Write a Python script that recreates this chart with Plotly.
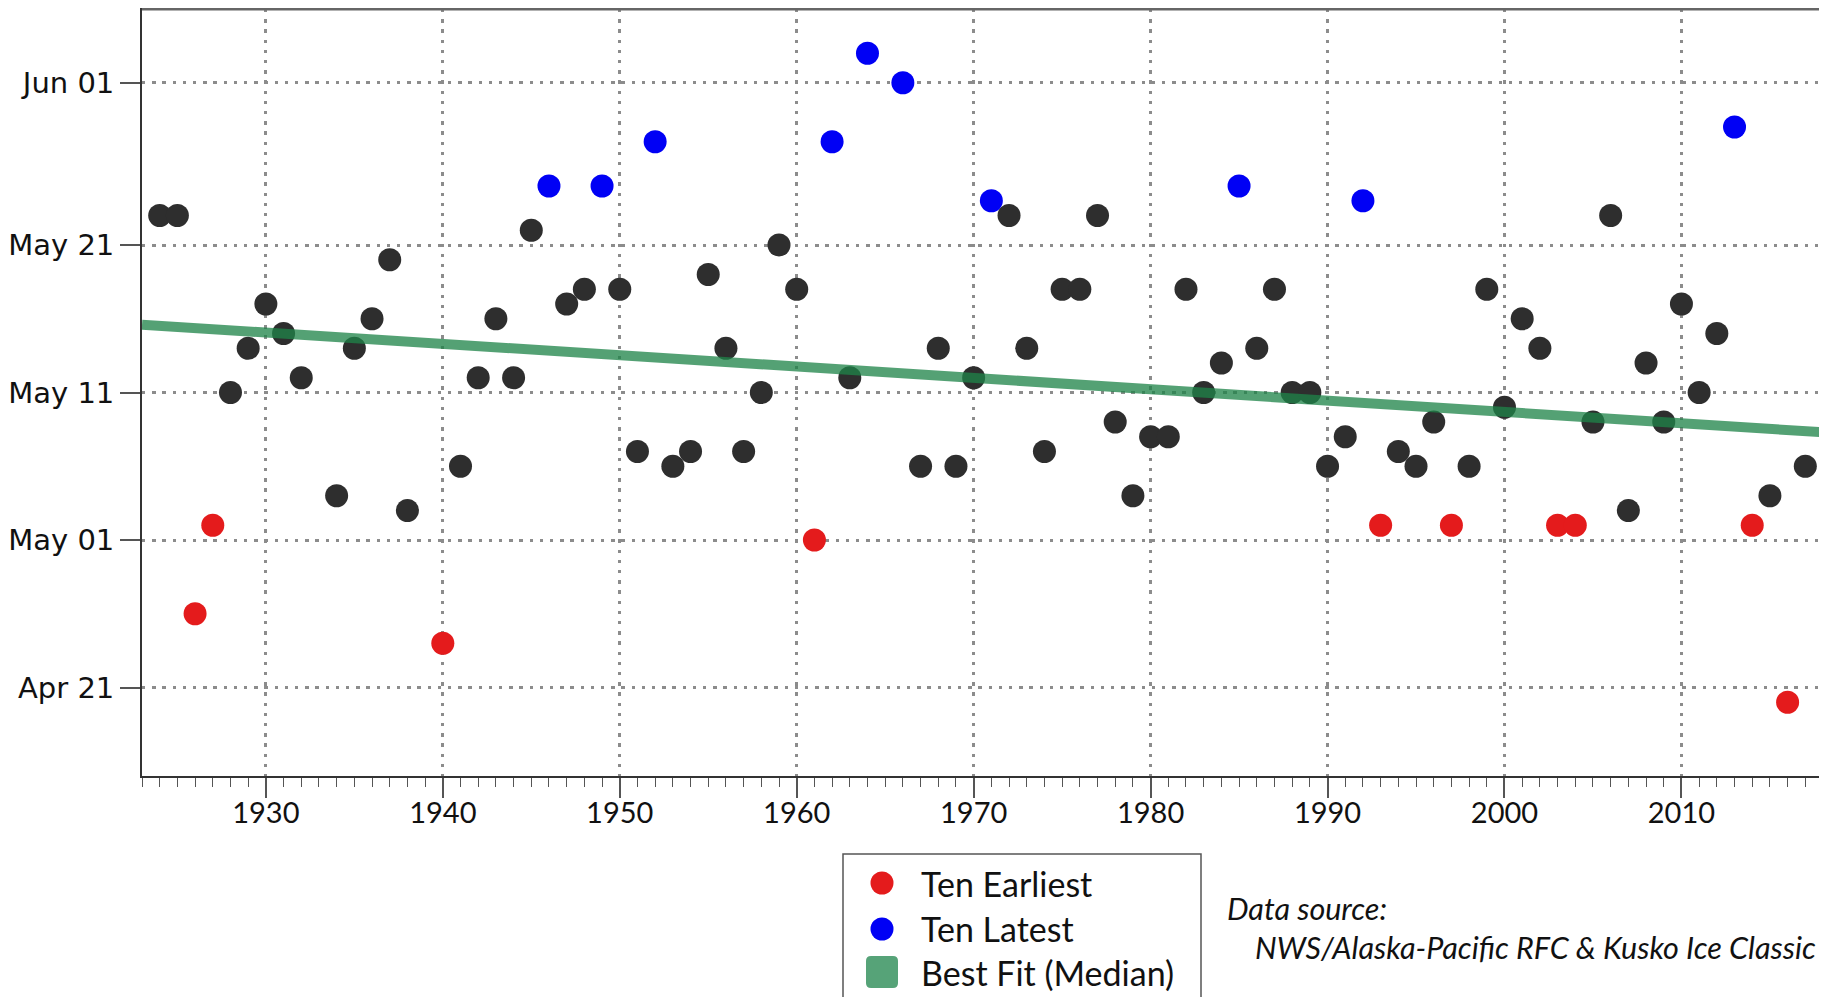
import plotly.graph_objects as go
import pandas as pd

BASE_YEAR = "2001"

# ---- data (breakup dates, month-day) ----
normal_years = [1924, 1925, 1928, 1929, 1930, 1931, 1932, 1934, 1935, 1936,
                1937, 1938, 1941, 1942, 1943, 1944, 1945, 1947, 1948, 1950,
                1951, 1953, 1954, 1955, 1956, 1957, 1958, 1959, 1960, 1963,
                1967, 1968, 1969, 1970, 1972, 1973, 1974, 1975, 1976, 1977,
                1978, 1979, 1980, 1981, 1982, 1983, 1984, 1986, 1987, 1988,
                1989, 1990, 1991, 1994, 1995, 1996, 1998, 1999, 2000, 2001,
                2002, 2005, 2006, 2007, 2008, 2009, 2010, 2011, 2012, 2015,
                2017]
normal_dates = ["05-23", "05-23", "05-11", "05-14", "05-17", "05-15", "05-12", "05-04", "05-14", "05-16",
                "05-20", "05-03", "05-06", "05-12", "05-16", "05-12", "05-22", "05-17", "05-18", "05-18",
                "05-07", "05-06", "05-07", "05-19", "05-14", "05-07", "05-11", "05-21", "05-18", "05-12",
                "05-06", "05-14", "05-06", "05-12", "05-23", "05-14", "05-07", "05-18", "05-18", "05-23",
                "05-09", "05-04", "05-08", "05-08", "05-18", "05-11", "05-13", "05-14", "05-18", "05-11",
                "05-11", "05-06", "05-08", "05-07", "05-06", "05-09", "05-06", "05-18", "05-10", "05-16",
                "05-14", "05-09", "05-23", "05-03", "05-13", "05-09", "05-17", "05-11", "05-15", "05-04",
                "05-06"]

earliest_years = [1926, 1927, 1940, 1961, 1993, 1997, 2003, 2004, 2014, 2016]
earliest_dates = ["04-26", "05-02", "04-24", "05-01", "05-02", "05-02", "05-02", "05-02", "05-02", "04-20"]

latest_years = [1946, 1949, 1952, 1962, 1964, 1966, 1971, 1985, 1992, 2013]
latest_dates = ["05-25", "05-25", "05-28", "05-28", "06-03", "06-01", "05-24", "05-25", "05-24", "05-29"]

fit_years = [1923, 2018]
fit_dates = ["05-15 14:24", "05-08 07:12"]

ytick_dates = ["04-21", "05-01", "05-11", "05-21", "06-01"]
ytick_labels = ["Apr 21", "May 01", "May 11", "May 21", "Jun 01"]
xtick_years = [1930, 1940, 1950, 1960, 1970, 1980, 1990, 2000, 2010]

legend_labels = ["Ten Earliest", "Ten Latest", "Best Fit (Median)"]
source_lines = ["Data source:", "NWS/Alaska-Pacific RFC & Kusko Ice Classic"]


def d(s):
    return pd.to_datetime([f"{BASE_YEAR}-{v}" for v in s])


BLACK = "#2e2e2e"
RED = "#e41b1c"
BLUE = "#0000f5"
GREEN_LINE = "rgba(30,132,72,0.76)"
GREEN_SQ = "#56a378"
GRID = "#8c8c8c"

# page layout (the page body adds an 8px offset)
OFF = 8
W, H = 1827, 997
ML, MR, MT, MB = 134, 12, 1, 229
PW = W - ML - MR
PH = H - MT - MB


def px(x):
    return (x - OFF - ML) / PW


def py(y):
    return (OFF + H - MB - y) / PH


fig = go.Figure()
fig.add_trace(go.Scatter(x=normal_years, y=d(normal_dates), mode="markers",
                         marker=dict(color=BLACK, size=23, line=dict(width=0)),
                         showlegend=False, hoverinfo="skip"))
fig.add_trace(go.Scatter(x=earliest_years, y=d(earliest_dates), mode="markers",
                         marker=dict(color=RED, size=23, line=dict(width=0)),
                         name=legend_labels[0], showlegend=False))
fig.add_trace(go.Scatter(x=latest_years, y=d(latest_dates), mode="markers",
                         marker=dict(color=BLUE, size=23, line=dict(width=0)),
                         name=legend_labels[1], showlegend=False))
fig.add_trace(go.Scatter(x=fit_years, y=d(fit_dates), mode="lines",
                         line=dict(color=GREEN_LINE, width=10),
                         name=legend_labels[2], showlegend=False))

fig.update_xaxes(
    range=[1923, 2018], tickvals=xtick_years, ticktext=[str(v) for v in xtick_years],
    ticks="outside", ticklen=20, tickwidth=1.5, tickcolor="#555",
    ticklabelstandoff=-10,
    minor=dict(dtick=1, tick0=1920, ticks="outside", ticklen=9, tickwidth=1.3,
               tickcolor="#555", showgrid=False),
    showgrid=True, gridcolor=GRID, gridwidth=3.4, griddash="3.4px,6.8px",
    showline=True, linecolor="#333", linewidth=1.8, mirror=True,
    tickfont=dict(family="Lato, Carlito, sans-serif", size=29, color="#111"),
    zeroline=False,
)
fig.update_yaxes(
    type="date", range=[f"{BASE_YEAR}-04-15", f"{BASE_YEAR}-06-06"],
    tickvals=d(ytick_dates), ticktext=ytick_labels,
    ticks="outside", ticklen=20, tickwidth=1.5, tickcolor="#555",
    showgrid=True, gridcolor=GRID, gridwidth=3.4, griddash="3.4px,6.8px",
    showline=True, linecolor="#333", linewidth=1.8, mirror=True,
    tickfont=dict(family="DejaVu Sans, Verdana, sans-serif", size=29, color="#111"),
    zeroline=False,
)

shapes = []
# heavier top frame edge
shapes.append(dict(type="line", xref="paper", yref="paper", x0=0, x1=1, y0=1, y1=1,
                   line=dict(color="#666", width=3), layer="above"))

# ---- legend box (manual) ----
shapes.append(dict(type="rect", xref="paper", yref="paper",
                   x0=px(843), x1=px(1201), y0=py(854), y1=py(1012),
                   line=dict(color="#555", width=1.5), fillcolor="white", layer="above"))
sym_x = px(882)
row_y = [883, 929, 972]
for col, yy in zip([RED, BLUE], row_y[:2]):
    shapes.append(dict(type="circle", xref="paper", yref="paper",
                       xsizemode="pixel", ysizemode="pixel",
                       xanchor=sym_x, yanchor=py(yy),
                       x0=-11.5, x1=11.5, y0=-11.5, y1=11.5,
                       fillcolor=col, line=dict(width=0), layer="above"))
r = 5
s = 16
path = (f"M {-s + r},{-s} L {s - r},{-s} Q {s},{-s} {s},{-s + r} L {s},{s - r} "
        f"Q {s},{s} {s - r},{s} L {-s + r},{s} Q {-s},{s} {-s},{s - r} "
        f"L {-s},{-s + r} Q {-s},{-s} {-s + r},{-s} Z")
shapes.append(dict(type="path", xref="paper", yref="paper",
                   xsizemode="pixel", ysizemode="pixel",
                   xanchor=sym_x, yanchor=py(row_y[2]), path=path,
                   fillcolor=GREEN_SQ, line=dict(width=0), layer="above"))

annotations = []
for lab, yy in zip(legend_labels, row_y):
    annotations.append(dict(text=lab, xref="paper", yref="paper", x=px(919), y=py(yy),
                            xanchor="left", yanchor="middle", showarrow=False,
                            font=dict(family="Lato, Carlito, sans-serif", size=34, color="#111")))
annotations.append(dict(text=f"<i>{source_lines[0]}</i>", xref="paper", yref="paper",
                        x=px(1225), y=py(908), xanchor="left", yanchor="middle", showarrow=False,
                        font=dict(family="Lato, Carlito, sans-serif", size=30.5, color="#111")))
annotations.append(dict(text=f"<i>{source_lines[1]}</i>", xref="paper", yref="paper",
                        x=px(1253), y=py(947), xanchor="left", yanchor="middle", showarrow=False,
                        font=dict(family="Lato, Carlito, sans-serif", size=30.5, color="#111")))

fig.update_layout(
    width=W, height=H,
    margin=dict(l=ML, r=MR, t=MT, b=MB, autoexpand=False),
    plot_bgcolor="white", paper_bgcolor="white",
    showlegend=False,
    shapes=shapes, annotations=annotations,
)

fig.write_html("out.html")
